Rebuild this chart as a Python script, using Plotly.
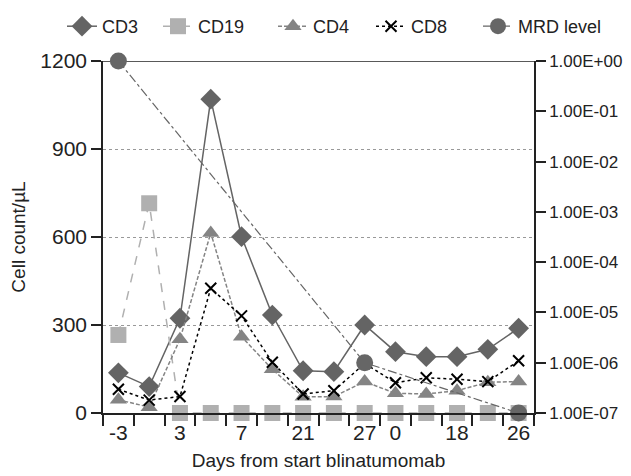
import plotly.graph_objects as go

# categories (14 sampling points); only some are labelled on the axis
categories = ["-3", "0", "3", "5", "7", "14", "21", "24", "27", "0", "11", "18", "22", "26"]
shown_labels = ["-3", "", "3", "", "7", "", "21", "", "27", "0", "", "18", "", "26"]

cd3 = [137, 90, 323, 1070, 601, 334, 144, 141, 300, 209, 192, 192, 217, 289]
cd19 = [266, 715, 0, 0, 0, 0, 0, 0, 0, 0, 0, 0, 0, 0]
cd4 = [45, 20, 251, 614, 260, 149, 55, 56, 107, 67, 65, 76, 105, 107]
cd8 = [81, 44, 56, 425, 331, 173, 65, 76, 169, 103, 120, 115, 107, 178]
mrd = [1e0, None, None, None, None, None, None, None, 1e-6, None, None, None, None, 1e-7]

right_ticks = [1e0, 1e-1, 1e-2, 1e-3, 1e-4, 1e-5, 1e-6, 1e-7]
right_labels = ["1.00E+00", "1.00E-01", "1.00E-02", "1.00E-03", "1.00E-04", "1.00E-05", "1.00E-06", "1.00E-07"]

x = list(range(len(categories)))
FONT = "Liberation Sans, Arial, sans-serif"

fig = go.Figure()
fig.add_trace(go.Scatter(x=x, y=cd3, name="CD3", mode="lines+markers", cliponaxis=False,
                         legend="legend",
                         line=dict(color="#646464", width=1.5),
                         marker=dict(symbol="diamond", size=16, color="#646464")))
fig.add_trace(go.Scatter(x=x, y=cd19, name="CD19", mode="lines+markers", cliponaxis=False,
                         legend="legend2",
                         line=dict(color="#b0b0b0", width=1.5, dash="dash"),
                         marker=dict(symbol="square", size=16, color="#b0b0b0")))
fig.add_trace(go.Scatter(x=x, y=cd4, name="CD4", mode="lines+markers", cliponaxis=False,
                         legend="legend3",
                         line=dict(color="#848484", width=1.5, dash="4px,2px"),
                         marker=dict(symbol="triangle-up", size=15, color="#848484")))
fig.add_trace(go.Scatter(x=x, y=cd8, name="CD8", mode="lines+markers", cliponaxis=False,
                         legend="legend4",
                         line=dict(color="#000000", width=1.5, dash="dot"),
                         marker=dict(symbol="x-thin", size=11, color="#000000",
                                     line=dict(width=2, color="#000000"))))
fig.add_trace(go.Scatter(x=x, y=mrd, name="MRD level", mode="lines+markers", yaxis="y2",
                         connectgaps=True, cliponaxis=False, legend="legend5",
                         line=dict(color="#666666", width=1.2, dash="dashdot"),
                         marker=dict(symbol="circle", size=17, color="#666666")))

legend_common = dict(orientation="h", xanchor="left", xref="container",
                     y=1.0, yanchor="top", yref="container",
                     font=dict(size=18), itemwidth=30,
                     bgcolor="rgba(0,0,0,0)")

fig.update_layout(
    width=631, height=476,
    margin=dict(l=95, r=105, t=53, b=71, autoexpand=False),
    plot_bgcolor="white", paper_bgcolor="white",
    font=dict(family=FONT, size=20, color="#222222"),
    showlegend=True,
    legend=dict(x=54 / 631, **legend_common),
    legend2=dict(x=150 / 631, **legend_common),
    legend3=dict(x=265 / 631, **legend_common),
    legend4=dict(x=363 / 631, **legend_common),
    legend5=dict(x=470 / 631, **legend_common),
    xaxis=dict(range=[-0.5, 13.5], tickmode="array", tickvals=x, ticktext=shown_labels,
               ticks="", showline=True, linecolor="#222222", linewidth=1.5,
               showgrid=False, zeroline=False,
               minor=dict(tickmode="array", tickvals=[i - 0.5 for i in range(15)],
                          ticks="outside", ticklen=11, tickcolor="#222222", tickwidth=1.5),
               title=dict(text="Days from start blinatumomab", standoff=11, font=dict(size=19)),
               tickfont=dict(size=21)),
    yaxis=dict(range=[0, 1200], tickmode="array", tickvals=[0, 300, 600, 900, 1200],
               ticks="outside", ticklen=10, tickcolor="#222222", tickwidth=1.5,
               showline=True, linecolor="#222222", linewidth=1.5,
               showgrid=True, gridcolor="#999999", griddash="dot", gridwidth=1,
               zeroline=False, title=dict(text="Cell count/µL", standoff=20, font=dict(size=19)),
               tickfont=dict(size=21)),
    yaxis2=dict(type="log", range=[-7, 0], overlaying="y", side="right",
                tickmode="array", tickvals=right_ticks, ticktext=right_labels,
                ticks="outside", ticklen=10, tickcolor="#222222", tickwidth=1.5,
                showline=True, linecolor="#222222", linewidth=1.5,
                showgrid=False, zeroline=False, tickfont=dict(size=17)),
    shapes=[dict(type="line", xref="paper", yref="y", x0=-0.023, x1=1, y0=1200, y1=1200,
                 line=dict(color="#222222", width=1.5), layer="below")],
)

fig.write_html("out.html")
